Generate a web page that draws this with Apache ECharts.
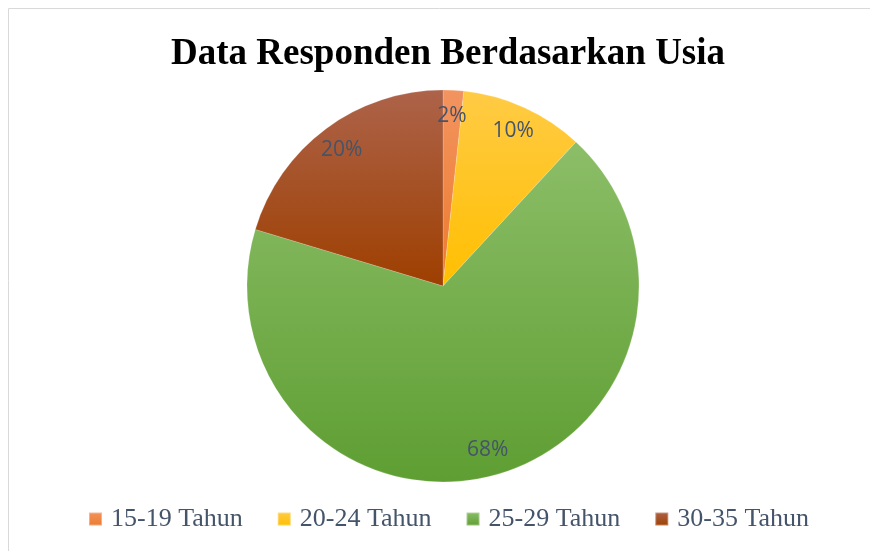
<!DOCTYPE html>
<html lang="en">
<head>
    <meta charset="UTF-8">
    <title>Data Responden Berdasarkan Usia</title>
    <style>
        html, body { margin: 0; padding: 0; background: #fff; }
        #chart { width: 870px; height: 551px; }
    </style>
</head>
<body>
<div id="chart"></div>

<script src="https://cdn.jsdelivr.net/npm/echarts/dist/echarts.min.js"></script>
<script>
    // age groups and respondent counts (shown as percentages)
    const ageGroups = ['15-19 Tahun', '20-24 Tahun', '25-29 Tahun', '30-35 Tahun'];
    const respondents = [1, 6, 40, 12];
    // light top / darker bottom of each slice's gradient
    const lightColors = ['#F29460', '#FFCB45', '#8CBE68', '#AD634A'];
    const darkColors = ['#ED7A2C', '#FFBF00', '#5E9E32', '#9E3F00'];

    const total = respondents.reduce((a, b) => a + b, 0);

    function grad(i) {
        return new echarts.graphic.LinearGradient(0, 0, 0, 1, [
            { offset: 0, color: lightColors[i] },
            { offset: 1, color: darkColors[i] }
        ]);
    }

    const pieData = ageGroups.map((name, i) => ({
        name: name,
        value: respondents[i],
        itemStyle: { color: grad(i) }
    }));

    const labelData = ageGroups.map((name, i) => ({
        name: name,
        value: respondents[i]
    }));

    const chart = echarts.init(document.getElementById('chart'));
    chart.setOption({
        animation: false,
        title: {
            text: 'Data Responden Berdasarkan Usia',
            left: 166,
            top: 31,
            textStyle: {
                fontFamily: 'Liberation Serif',
                fontWeight: 'bold',
                fontSize: 37,
                color: '#000'
            }
        },
        legend: {
            bottom: 14,
            left: 83,
            itemWidth: 13,
            itemHeight: 13,
            itemGap: 34,
            icon: 'rect',
            data: ageGroups,
            textStyle: {
                fontFamily: 'Liberation Serif',
                fontSize: 26,
                color: '#44546A',
                padding: [0, 0, 0, 4]
            }
        },
        graphic: [{
            type: 'rect',
            shape: { x: 8.5, y: 8.5, width: 900, height: 600 },
            style: { fill: null, stroke: '#D9D9D9', lineWidth: 1 },
            silent: true
        }],
        series: [
            {
                type: 'pie',
                center: [443, 286],
                radius: [0, 196],
                startAngle: 90,
                clockwise: true,
                data: pieData,
                label: { show: false },
                labelLine: { show: false },
                itemStyle: { borderColor: 'rgba(255,255,255,0.35)', borderWidth: 0.5 },
                emphasis: { disabled: true }
            },
            {
                // transparent ring used only to place the percentage labels
                type: 'pie',
                center: [443, 286],
                radius: [138, 196],
                startAngle: 90,
                clockwise: true,
                silent: true,
                data: labelData,
                itemStyle: { color: 'rgba(0,0,0,0)' },
                label: {
                    show: true,
                    position: 'inside',
                    fontFamily: 'Open Sans',
                    fontSize: 21,
                    color: '#44546A',
                    formatter: p => Math.round(p.value / total * 100) + '%'
                },
                labelLine: { show: false },
                emphasis: { disabled: true }
            }
        ]
    });
</script>
</body>
</html>
